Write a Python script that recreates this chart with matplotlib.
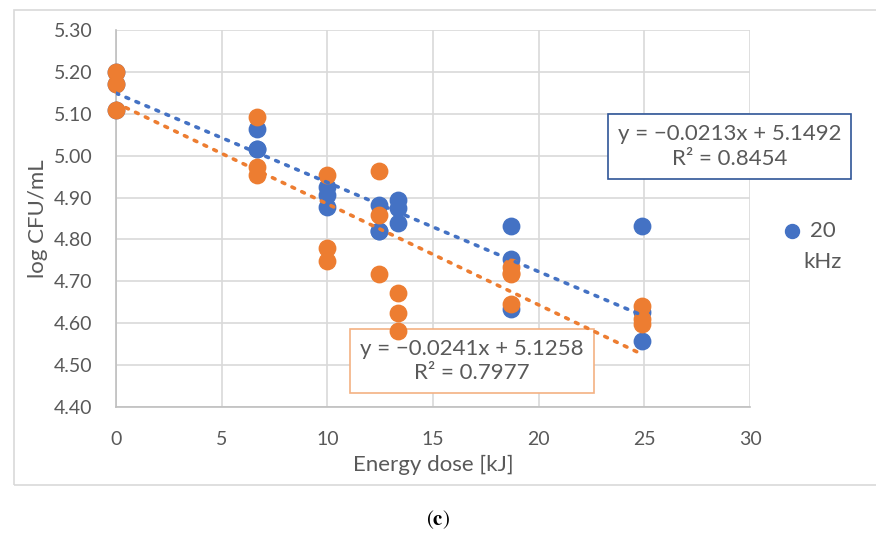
import matplotlib.pyplot as plt
from matplotlib.patches import Rectangle

plt.rcParams['font.family'] = ['Lato', 'DejaVu Sans']
plt.rcParams['mathtext.fontset'] = 'stix'

# data
blue_x = [0, 0, 0, 6.67, 6.67, 6.67, 10, 10, 10, 12.44, 12.44, 12.44,
          13.33, 13.33, 13.33, 18.67, 18.67, 18.67, 24.89, 24.89, 24.89]
blue_y = [5.20, 5.17, 5.11, 5.064, 5.016, 5.016, 4.926, 4.906, 4.877,
          4.882, 4.820, 4.820, 4.894, 4.874, 4.840, 4.833, 4.753, 4.635,
          4.833, 4.627, 4.557]
orange_x = [0, 0, 0, 6.67, 6.67, 6.67, 10, 10, 10, 12.44, 12.44, 12.44,
            13.33, 13.33, 13.33, 18.67, 18.67, 18.67, 18.67, 24.89, 24.89, 24.89]
orange_y = [5.20, 5.17, 5.11, 5.093, 4.974, 4.954, 4.955, 4.779, 4.748,
            4.963, 4.858, 4.717, 4.673, 4.625, 4.581, 4.735, 4.717, 4.720,
            4.646, 4.641, 4.609, 4.598]
blue_fit = (-0.0213, 5.1492, 0.8454)
orange_fit = (-0.0241, 5.1258, 0.7977)
fit_range = [0, 24.89]

blue = '#4472C4'
orange = '#ED7D31'
txt = '#595959'

fig = plt.figure(figsize=(8.76, 5.34), dpi=100)
fig.patches.append(Rectangle((14/876, 1-485/534), 1.0, (485-10)/534,
                             transform=fig.transFigure, fill=False,
                             edgecolor='#D9D9D9', linewidth=1.2))

ax = fig.add_axes([116/876, 1-407/534, 634/876, 377/534])

ax.scatter(blue_x, blue_y, s=140, color=blue, zorder=3, label='20', clip_on=False)
ax.scatter(orange_x, orange_y, s=140, color=orange, zorder=4, clip_on=False)

for (m, b, r2), c in [(blue_fit, blue), (orange_fit, orange)]:
    ys = [m*x + b for x in fit_range]
    ax.plot(fit_range, ys, color=c, linestyle=(0, (0.8, 2.2)), linewidth=2.6,
            dash_capstyle='round', zorder=5)

ax.set_xlim(0, 30)
ax.set_ylim(4.40, 5.30)
ax.set_xticks(range(0, 31, 5))
ax.set_yticks([4.40 + 0.1*i for i in range(10)])
ax.set_yticklabels(['%.2f' % (4.40 + 0.1*i) for i in range(10)])
ax.grid(True, color='#D9D9D9', linewidth=1.2)
ax.set_axisbelow(True)
for s in ['top', 'right']:
    ax.spines[s].set_visible(False)
for s in ['left', 'bottom']:
    ax.spines[s].set_color('#BFBFBF')
    ax.spines[s].set_linewidth(1.2)
ax.tick_params(length=0, labelsize=14, labelcolor=txt)
ax.tick_params(axis='x', pad=17)
ax.tick_params(axis='y', pad=17)
ax.set_xlabel('Energy dose [kJ]', fontsize=16, color=txt, labelpad=5)
ax.set_ylabel('log CFU/mL', fontsize=16, color=txt)
ax.yaxis.set_label_coords(-0.107, 0.5)

ax.text(0.968, 0.691, 'y = \u22120.0213x + 5.1492\nR\u00b2 = 0.8454',
        transform=ax.transAxes, ha='center', va='center', fontsize=16,
        color=txt, linespacing=1.3, zorder=2.5,
        bbox=dict(boxstyle='square,pad=0.45', facecolor='white',
                  edgecolor='#2F5597', linewidth=1.2))
ax.text(0.5615, 0.122, 'y = \u22120.0241x + 5.1258\nR\u00b2 = 0.7977',
        transform=ax.transAxes, ha='center', va='center', fontsize=16,
        color=txt, linespacing=1.3, zorder=2.5,
        bbox=dict(boxstyle='square,pad=0.45', facecolor='white',
                  edgecolor='#F4B183', linewidth=1.2))

ax.legend(loc='center left', bbox_to_anchor=(781/876, 1-231/534),
          bbox_transform=fig.transFigure, frameon=False, fontsize=16,
          handlelength=1.0, handletextpad=0.3, borderpad=0, borderaxespad=0,
          markerscale=0.85, labelcolor=txt)
fig.text(803/876, 1-262/534, 'kHz', fontsize=16, color=txt, va='center')

fig.text(438/876, 1-520/534, r'($\mathbf{c}$)', fontsize=15, color='black',
         ha='center', va='center', family='STIXGeneral')

fig.savefig('out.png', dpi=100)
